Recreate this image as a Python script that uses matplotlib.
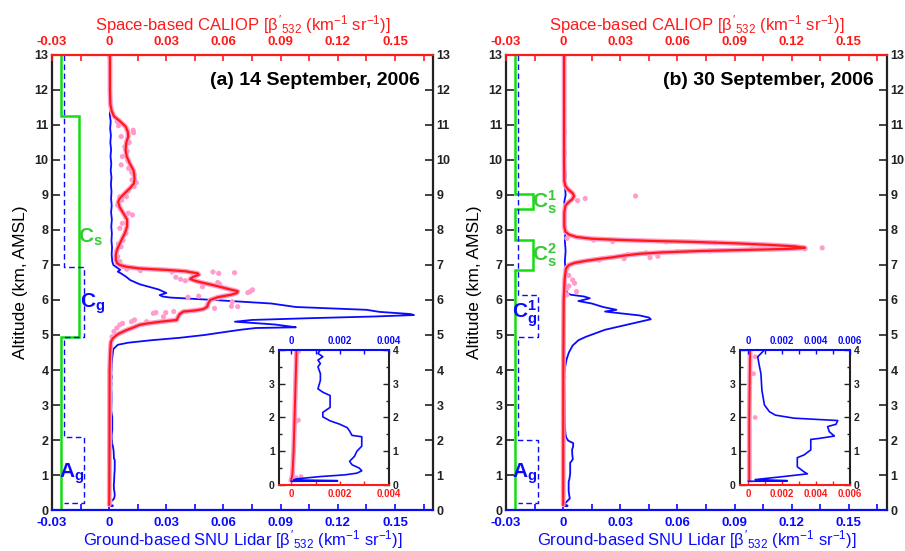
import matplotlib
matplotlib.use('Agg')
import matplotlib.pyplot as plt
from matplotlib.ticker import FixedLocator, FixedFormatter

plt.rcParams['font.family'] = ['Liberation Sans', 'DejaVu Sans']
plt.rcParams['mathtext.fontset'] = 'custom'
plt.rcParams['mathtext.rm'] = 'Liberation Sans'
plt.rcParams['mathtext.it'] = 'Liberation Sans'
plt.rcParams['mathtext.bf'] = 'Liberation Sans:bold'

# ---------------- data ----------------
x_ticks = [-0.03, 0, 0.03, 0.06, 0.09, 0.12, 0.15]
x_tick_labels = ['-0.03', '0', '0.03', '0.06', '0.09', '0.12', '0.15']
x_minor = [-0.015, 0.015, 0.045, 0.075, 0.105, 0.135, 0.165]
y_ticks = list(range(0, 14))
inset_y_ticks = [0, 1, 2, 3, 4]
inset_a_ticks = [0, 0.002, 0.004]
inset_a_labels = ['0', '0.002', '0.004']
inset_b_ticks = [0, 0.002, 0.004, 0.006]
inset_b_labels = ['0', '0.002', '0.004', '0.006']

# (a) 14 September 2006 -- SNU lidar
snu_a_alt = [13.0, 12.7, 12.5, 12.3, 12.1, 11.9, 11.7, 11.5, 11.3, 11.1, 10.9, 10.7, 10.5, 10.3,
             10.1, 9.9, 9.7, 9.5, 9.3, 9.1, 8.9, 8.7, 8.5, 8.3, 8.1, 7.9, 7.7, 7.5, 7.3, 7.1,
             7.0, 6.93, 6.86, 6.81, 6.76, 6.66, 6.57, 6.45, 6.3, 6.2, 6.14, 6.1, 6.07, 6.0,
             5.9, 5.8, 5.72, 5.66, 5.6, 5.57, 5.53, 5.48, 5.43, 5.38, 5.35, 5.3, 5.25, 5.22,
             5.2, 5.15, 5.08, 5.0, 4.92, 4.85, 4.78, 4.72, 4.6, 4.4, 4.2, 4.0, 3.9, 3.8, 3.7,
             3.6, 3.5, 3.3, 3.1, 2.85, 2.75, 2.65, 2.5, 2.3, 2.15, 2.02, 1.9, 1.8, 1.7, 1.6,
             1.47, 1.43, 1.3, 1.15, 1.0, 0.85, 0.7, 0.6, 0.5, 0.42, 0.35, 0.3, 0.25, 0.18,
             0.15, 0.13, 0.115, 0.11]
snu_a_val = [-0.0004, 0.0002, -0.0002, 0.0003, 0.0, 0.0005, 0.0002, 0.0006, 0.0003, 0.0008,
             0.0005, 0.0009, 0.0006, 0.001, 0.0007, 0.0011, 0.0008, 0.0012, 0.0009, 0.0012,
             0.001, 0.0013, 0.001, 0.0014, 0.0011, 0.0014, 0.0012, 0.0015, 0.0013, 0.0016,
             0.0022, 0.004, 0.0058, 0.0045, 0.0062, 0.009, 0.011, 0.016, 0.026, 0.030,
             0.0265, 0.028, 0.032, 0.055, 0.085, 0.098, 0.135, 0.142, 0.158, 0.160, 0.140,
             0.105, 0.075, 0.066, 0.074, 0.087, 0.094, 0.098, 0.077, 0.069, 0.060, 0.050,
             0.037, 0.022, 0.010, 0.0045, 0.0022, 0.0017, 0.0013, 0.0012, 0.0011, 0.0013,
             0.0011, 0.0012, 0.0011, 0.0012, 0.0012, 0.0011, 0.0013, 0.0016, 0.0016, 0.0016,
             0.0013, 0.0013, 0.0016, 0.002, 0.0023, 0.0024, 0.0025, 0.0029, 0.0029, 0.0029,
             0.0027, 0.0026, 0.0024, 0.0025, 0.0028, 0.0029, 0.0027, 0.0022, 0.0012, 0.0002,
             0.0001, 0.0019, 0.0019, 0.0]

# (a) CALIOP smoothed
cal_a_alt = [13.0, 12.0, 11.6, 11.4, 11.25, 11.1, 10.95, 10.8, 10.67, 10.5, 10.3, 10.1, 9.9,
             9.7, 9.5, 9.33, 9.2, 9.05, 8.9, 8.8, 8.65, 8.5, 8.3, 8.1, 7.9, 7.75, 7.6, 7.45,
             7.3, 7.15, 7.05, 7.0, 6.95, 6.9, 6.86, 6.82, 6.76, 6.72, 6.66, 6.6, 6.55, 6.5,
             6.42, 6.33, 6.25, 6.2, 6.15, 6.08, 6.0, 5.9, 5.81, 5.74, 5.7, 5.67, 5.6, 5.5,
             5.43, 5.38, 5.33, 5.29, 5.2, 5.14, 5.05, 5.0, 4.9, 4.8, 4.5, 4.0, 3.0, 2.0, 1.0,
             0.3, 0.15]
cal_a_val = [0.0004, 0.0004, 0.0006, 0.0013, 0.0025, 0.0058, 0.0087, 0.0098, 0.0100, 0.009,
             0.0086, 0.0092, 0.0108, 0.0128, 0.0133, 0.013, 0.011, 0.0082, 0.0055, 0.0047,
             0.0055, 0.0072, 0.0094, 0.0094, 0.0082, 0.0068, 0.0055, 0.0042, 0.0035, 0.0035,
             0.0042, 0.0056, 0.009, 0.016, 0.030, 0.040, 0.0465, 0.047, 0.044, 0.0425, 0.045,
             0.0485, 0.055, 0.0615, 0.0675, 0.067, 0.064, 0.057, 0.053, 0.052, 0.0515, 0.0495,
             0.045, 0.039, 0.037, 0.036, 0.0355, 0.027, 0.020, 0.016, 0.012, 0.0091, 0.0055,
             0.0039, 0.0018, 0.0009, 0.0005, 0.00022, 0.00018, 0.00014, 0.0001, 0.00005, 0.0]

# (a) CALIOP raw profile points
cal_a_dot_alt = [11.1, 10.98, 10.86, 10.85, 10.78, 10.67, 10.5, 10.38, 10.25, 10.1, 9.98, 9.86,
                 9.76, 9.65, 9.57, 9.43, 9.35, 9.24, 9.1, 8.95, 8.95, 8.85, 8.71, 8.6, 8.48,
                 8.43, 8.35, 8.19, 8.05, 7.9, 7.71, 7.6, 7.52, 7.38, 7.24, 7.1, 6.95, 6.88,
                 6.84, 6.80, 6.65, 6.59, 6.55, 6.80, 6.76, 6.78, 6.38, 6.50, 6.45, 6.21, 6.24,
                 6.29, 6.11, 6.08, 6.06, 5.95, 5.81, 5.82, 5.76, 5.86, 5.67, 5.64, 5.64, 5.52,
                 5.43, 5.38, 5.38, 5.33, 5.29, 5.62, 5.2, 5.1, 4.95, 3.95, 1.92, 1.88, 0.25, 0.22]
cal_a_dot_val = [0.0042, 0.0049, 0.0094, 0.0126, 0.0128, 0.0063, 0.0105, 0.0082, 0.0095, 0.0069,
                 0.0098, 0.0063, 0.0102, 0.0118, 0.013, 0.012, 0.0142, 0.0131, 0.0098, 0.009,
                 0.0056, 0.0066, 0.0044, 0.0058, 0.010, 0.0122, 0.0087, 0.0069, 0.0056, 0.0088,
                 0.0073, 0.0048, 0.0063, 0.0038, 0.0045, 0.0056, 0.007, 0.0092, 0.0164, 0.033,
                 0.035, 0.0375, 0.040, 0.0545, 0.0575, 0.0658, 0.049, 0.057, 0.058, 0.0728,
                 0.074, 0.0752, 0.047, 0.0414, 0.057, 0.0646, 0.0675, 0.0642, 0.0553, 0.0515,
                 0.0339, 0.0297, 0.0245, 0.0285, 0.0133, 0.0196, 0.0117, 0.007, 0.0056, 0.0232,
                 0.004, 0.0025, 0.0015, 0.0003, 0.0003, 0.0002, 0.0004, 0.0002]

# (b) 30 September 2006 -- SNU lidar
snu_b_alt = [13.0, 12.6, 12.3, 12.0, 11.7, 11.4, 11.1, 10.8, 10.5, 10.2, 9.9, 9.6, 9.3, 9.0,
             8.8, 8.6, 8.3, 8.0, 7.7, 7.4, 7.1, 6.8, 6.5, 6.3, 6.2, 6.15, 6.1, 6.05, 6.0, 5.97,
             5.9, 5.8, 5.72, 5.67, 5.62, 5.56, 5.5, 5.45, 5.4, 5.35, 5.25, 5.15, 5.05, 4.95,
             4.85, 4.7, 4.5, 4.3, 4.1, 4.0, 3.8, 3.6, 3.3, 2.8, 2.37, 2.17, 2.07, 1.98, 1.91,
             1.8, 1.73, 1.58, 1.45, 1.38, 1.35, 1.04, 0.89, 0.81, 0.54, 0.39, 0.33, 0.24, 0.16,
             0.13, 0.115, 0.11]
snu_b_val = [0.0003, 0.0008, 0.0005, 0.0010, 0.0006, 0.0011, 0.0007, 0.0012, 0.0008, 0.0012,
             0.0008, 0.0013, 0.0009, 0.0013, 0.0006, 0.0012, 0.0008, 0.0013, 0.0009, 0.0013,
             0.0009, 0.0014, 0.0011, 0.0015, 0.002, 0.004, 0.011, 0.014, 0.0105, 0.008, 0.015,
             0.021, 0.028, 0.022, 0.030, 0.040, 0.045, 0.046, 0.042, 0.038, 0.030, 0.022,
             0.017, 0.012, 0.008, 0.005, 0.003, 0.0018, 0.0011, 0.00095, 0.00055, 0.00062,
             0.00074, 0.0008, 0.00095, 0.00125, 0.0016, 0.0027, 0.0053, 0.0052, 0.0047,
             0.0048, 0.0051, 0.0042, 0.0037, 0.0037, 0.0033, 0.0029, 0.0029, 0.0033, 0.0035,
             0.0019, 0.0004, 0.0023, 0.0023, 0.0]

# (b) CALIOP smoothed
cal_b_alt = [13.0, 10.0, 9.4, 9.25, 9.15, 9.05, 8.97, 8.88, 8.8, 8.7, 8.5, 8.1, 7.95, 7.87,
             7.8, 7.75, 7.72, 7.69, 7.66, 7.62, 7.57, 7.53, 7.49, 7.46, 7.43, 7.4, 7.36, 7.32,
             7.27, 7.22, 7.18, 7.12, 7.06, 7.0, 6.9, 6.6, 6.0, 4.0, 2.0, 0.15]
cal_b_val = [0.0005, 0.0005, 0.0006, 0.0012, 0.0028, 0.005, 0.0057, 0.0048, 0.003, 0.0012,
             0.0006, 0.0006, 0.0012, 0.003, 0.007, 0.015, 0.028, 0.045, 0.068, 0.090, 0.110,
             0.122, 0.127, 0.118, 0.095, 0.072, 0.052, 0.040, 0.032, 0.026, 0.020, 0.012,
             0.006, 0.003, 0.0015, 0.0008, 0.0003, 0.0001, 0.00005, 0.00005]

# (b) CALIOP raw profile points
cal_b_dot_alt = [8.9, 8.84, 8.97, 7.71, 7.67, 7.66, 7.63, 7.54, 7.52, 7.46, 7.49, 7.45, 7.40,
                 7.38, 7.35, 7.30, 7.25, 7.21, 7.18, 7.14, 6.57, 6.48, 6.33, 6.24, 7.76, 7.95,
                 6.9, 6.7, 6.4, 6.15, 3.8, 3.3, 2.0]
cal_b_dot_val = [0.0116, 0.0076, 0.038, 0.016, 0.026, 0.054, 0.080, 0.113, 0.117, 0.127, 0.136,
                 0.099, 0.077, 0.060, 0.0435, 0.034, 0.0497, 0.0456, 0.032, 0.019, 0.005,
                 0.006, 0.002, 0.007, 0.002, 0.0015, 0.002, 0.003, 0.003, 0.002, 0.0004,
                 0.0003, 0.0004]

# layer boundaries (km): CALIOP cloud (Cs), SNU cloud (Cg) and aerosol (Ag)
cs_a_layers = [(4.95, 11.25)]
snu_a_layers = [(4.95, 6.95), (0.2, 2.1)]
cs_b_layers = [(8.6, 9.03), (6.86, 7.7)]
snu_b_layers = [(4.95, 6.13), (0.2, 2.0)]

# ---------------- styling ----------------
RED = '#ff1a1a'
BLUE = '#0a0aff'
GREEN = '#11dd11'
GREEN_TXT = '#33cc33'
PINK = '#ff9ccb'
DARK = '#222222'


def step_path(layers, base, box, top=13.0, bottom=0.0):
    xs, ys = [base], [top]
    layers = sorted(layers, key=lambda l: -l[1])
    for lo, hi in layers:
        xs += [base, box, box, base]
        ys += [hi, hi, lo, lo]
    if not layers or layers[-1][0] > 0.3:
        xs.append(base)
        ys.append(bottom)
    return xs, ys


fig = plt.figure(figsize=(9.05, 5.51), dpi=100)
LABEL_UNITS = r"[$\beta'_{532}$ (km$^{-1}$ sr$^{-1}$)]"


def main_panel(left, title, snu_alt, snu_val, cal_alt, cal_val, dot_alt, dot_val,
               cs_layers, snu_layers, annots):
    ax = fig.add_axes([left, 0.0744, 0.421, 0.8258])
    ax.set_xlim(-0.03, 0.17)
    ax.set_ylim(0, 13)
    ax2 = ax.twiny()
    ax2.set_xlim(-0.03, 0.17)

    for a, col in ((ax, BLUE), (ax2, RED)):
        a.xaxis.set_major_locator(FixedLocator(x_ticks))
        a.xaxis.set_major_formatter(FixedFormatter(x_tick_labels))
        a.xaxis.set_minor_locator(FixedLocator(x_minor))
        a.tick_params(axis='x', which='both', direction='in', colors=col, length=4,
                      width=1.2, labelsize=9.5, pad=5)
        for lab in a.get_xticklabels():
            lab.set_fontweight('bold')
        for s in a.spines.values():
            s.set_visible(False)
    ax.spines['bottom'].set_visible(True)
    ax.spines['bottom'].set_color(BLUE)
    ax.spines['bottom'].set_linewidth(1.6)
    ax2.spines['top'].set_visible(True)
    ax2.spines['top'].set_color(RED)
    ax2.spines['top'].set_linewidth(1.6)
    for s in ('left', 'right'):
        ax.spines[s].set_visible(True)
        ax.spines[s].set_color(DARK)
        ax.spines[s].set_linewidth(1.6)

    ax.yaxis.set_major_locator(FixedLocator(y_ticks))
    ax.tick_params(axis='y', direction='in', left=True, right=True, labelleft=True,
                   labelright=True, length=6, width=1.2, labelsize=9, pad=2.5, colors=DARK)
    for lab in ax.get_yticklabels():
        lab.set_fontweight('bold')
    ax.set_ylabel('Altitude (km, AMSL)', fontsize=12.5, labelpad=5, color='black')

    ax.set_xlabel('Ground-based SNU Lidar ' + LABEL_UNITS, color=BLUE, fontsize=12,
                  labelpad=-0.5)
    ax2.set_xlabel('Space-based CALIOP ' + LABEL_UNITS, color=RED, fontsize=12, labelpad=4)

    # layer markers
    xs, ys = step_path(cs_layers, -0.0255, -0.0157)
    ax.plot(xs, ys, color=GREEN, lw=1.8, solid_joinstyle='miter')
    xs, ys = step_path(snu_layers, -0.0235, -0.0133)
    ax.plot(xs, ys, color=BLUE, lw=1.0, ls=(0, (4, 2.5)))

    ax.plot(snu_val, snu_alt, color=BLUE, lw=1.3)
    ax2.plot(cal_val, cal_alt, color=PINK, lw=3.5, solid_capstyle='round')
    ax2.scatter(dot_val, dot_alt, s=14, color=PINK, edgecolors='none', zorder=2)
    ax2.plot(cal_val, cal_alt, color=RED, lw=1.6, zorder=3)

    ax.text(0.966, 0.945, title, transform=ax.transAxes, ha='right', va='center',
            fontsize=14, fontweight='bold', color='black')
    for (txt, x, y, col) in annots:
        ax.text(x, y, txt, ha='center', va='center', fontsize=15, color=col)
    return ax


def inset(left, xmax, ticks, labels, snu_alt, snu_val, cal_alt, cal_val, dot_alt, dot_val):
    ia = fig.add_axes([left, 0.1198, 0.1210, 0.245])
    ia.set_facecolor('white')
    ia.set_xlim(-0.0005, xmax)
    ia.set_ylim(0, 4)
    ib = ia.twiny()
    ib.set_xlim(-0.0005, xmax)
    minor = [t + 0.001 for t in ticks]
    for a, col in ((ia, RED), (ib, BLUE)):
        a.xaxis.set_major_locator(FixedLocator(ticks))
        a.xaxis.set_major_formatter(FixedFormatter(labels))
        a.xaxis.set_minor_locator(FixedLocator(minor))
        a.tick_params(axis='x', which='both', direction='in', colors=col, length=3,
                      width=1.0, labelsize=7, pad=3)
        for lab in a.get_xticklabels():
            lab.set_fontweight('bold')
        for s in a.spines.values():
            s.set_visible(False)
    ia.spines['bottom'].set_visible(True)
    ia.spines['bottom'].set_color(RED)
    ia.spines['bottom'].set_linewidth(1.5)
    ib.spines['top'].set_visible(True)
    ib.spines['top'].set_color(BLUE)
    ib.spines['top'].set_linewidth(1.5)
    for s in ('left', 'right'):
        ia.spines[s].set_visible(True)
        ia.spines[s].set_color(DARK)
        ia.spines[s].set_linewidth(1.5)
    ia.yaxis.set_major_locator(FixedLocator(inset_y_ticks))
    ia.yaxis.set_minor_locator(FixedLocator([0.5, 1.5, 2.5, 3.5]))
    ia.tick_params(axis='y', which='both', direction='in', left=True, right=True,
                   labelleft=True, labelright=True, length=4, width=1.0, labelsize=7.5,
                   pad=3, colors=DARK)
    ia.tick_params(axis='y', which='minor', length=2.5)
    for lab in ia.get_yticklabels():
        lab.set_fontweight('bold')

    ia.plot(cal_val, cal_alt, color=PINK, lw=3.5)
    ia.scatter(dot_val, dot_alt, s=12, color=PINK, edgecolors='none')
    ia.plot(cal_val, cal_alt, color=RED, lw=1.4)
    ib.plot(snu_val, snu_alt, color=BLUE, lw=1.2)


main_panel(0.0575, '(a) 14 September, 2006', snu_a_alt, snu_a_val, cal_a_alt, cal_a_val,
           cal_a_dot_alt, cal_a_dot_val, cs_a_layers, snu_a_layers,
           [(r'$\mathbf{C_s}$', -0.0100, 7.78, GREEN_TXT),
            (r'$\mathbf{C_g}$', -0.0085, 5.88, BLUE),
            (r'$\mathbf{A_g}$', -0.0195, 1.05, BLUE)])
main_panel(0.5591, '(b) 30 September, 2006', snu_b_alt, snu_b_val, cal_b_alt, cal_b_val,
           cal_b_dot_alt, cal_b_dot_val, cs_b_layers, snu_b_layers,
           [(r'$\mathbf{C_s^1}$', -0.0100, 8.8, GREEN_TXT),
            (r'$\mathbf{C_s^2}$', -0.0100, 7.27, GREEN_TXT),
            (r'$\mathbf{C_g^1}$', -0.0200, 5.6, BLUE),
            (r'$\mathbf{A_g}$', -0.0200, 1.05, BLUE)])

inset(0.3083, 0.004, inset_a_ticks, inset_a_labels, snu_a_alt, snu_a_val, cal_a_alt, cal_a_val,
      cal_a_dot_alt, cal_a_dot_val)
inset(0.8177, 0.006, inset_b_ticks, inset_b_labels, snu_b_alt, snu_b_val, cal_b_alt, cal_b_val,
      cal_b_dot_alt, cal_b_dot_val)

fig.savefig('out.png', dpi=100, facecolor='white')
